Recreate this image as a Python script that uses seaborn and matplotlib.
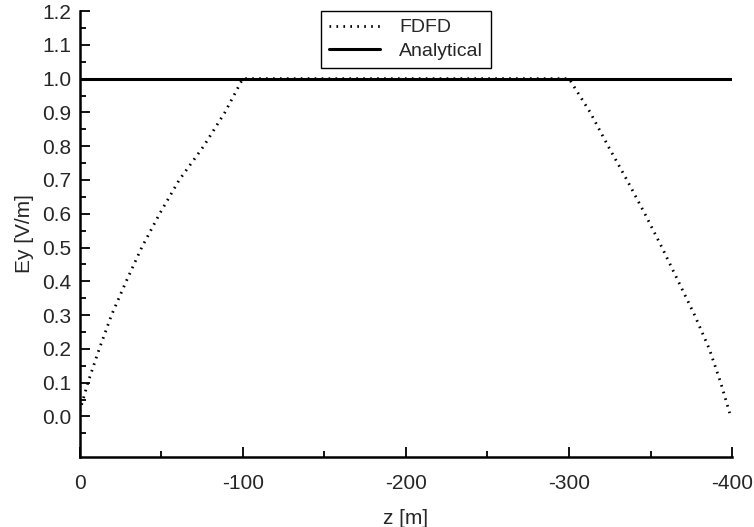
import numpy as np
import pandas as pd
import matplotlib
matplotlib.use("Agg")
import matplotlib.pyplot as plt
import seaborn as sns

# ── data ──────────────────────────────────────────────
z_fdfd = [0, -5, -12, -19.5, -28.5, -38, -49, -61, -76, -89, -100,
          -200, -300, -313, -324, -335.5, -346.5, -357, -367, -377,
          -386, -393, -398.5]
ey_fdfd = [0.015, 0.1, 0.2, 0.3, 0.4, 0.5, 0.6, 0.7, 0.8, 0.9, 1.0,
           1.0, 1.0, 0.9, 0.8, 0.7, 0.6, 0.5, 0.4, 0.3,
           0.2, 0.1, 0.01]
z_analytical = [0, -400]
ey_analytical = [1.0, 1.0]

x_ticks = [0, -100, -200, -300, -400]
x_ticklabels = ["0", "-100", "-200", "-300", "-400"]

df = pd.concat([
    pd.DataFrame({"z": z_fdfd, "Ey": ey_fdfd, "series": "FDFD"}),
    pd.DataFrame({"z": z_analytical, "Ey": ey_analytical, "series": "Analytical"}),
], ignore_index=True)

DOTS = (0.6, 1.9)

# ── style ─────────────────────────────────────────────
sns.set_style("ticks")
plt.rcParams["font.family"] = ["Liberation Sans", "DejaVu Sans"]
plt.rcParams["axes.unicode_minus"] = False

fig = plt.figure(figsize=(7.54, 5.27), dpi=100)
ax = fig.add_axes([0.1057, 0.1328, 0.8653, 0.8462])

sns.lineplot(data=df[df["series"] == "FDFD"], x="z", y="Ey", ax=ax,
             color="black", linewidth=2.0, dashes=False, label="FDFD",
             sort=False, estimator=None)
ax.lines[-1].set_dashes(DOTS)
ax.lines[-1].set_dash_capstyle("butt")
sns.lineplot(data=df[df["series"] == "Analytical"], x="z", y="Ey", ax=ax,
             color="black", linewidth=2.2, label="Analytical",
             sort=False, estimator=None)

ax.set_xlim(0, -400)
ax.set_ylim(-0.12, 1.2)
ax.set_xticks(x_ticks)
ax.set_xticklabels(x_ticklabels)
ax.set_xticks([-50, -150, -250, -350], minor=True)
yt = np.round(np.arange(0, 1.21, 0.1), 1)
ax.set_yticks(yt)
ax.set_yticklabels([f"{v:.1f}" for v in yt])
ax.set_yticks(np.round(np.arange(-0.05, 1.2, 0.1), 2), minor=True)

ax.tick_params(which="both", direction="in", width=1.3, color="black")
ax.tick_params(which="major", length=7, labelsize=15)
ax.tick_params(which="minor", length=4)
ax.tick_params(axis="x", pad=12)
ax.tick_params(axis="y", pad=6)

for side in ["top", "right"]:
    ax.spines[side].set_visible(False)
for side in ["left", "bottom"]:
    ax.spines[side].set_linewidth(1.8)
    ax.spines[side].set_color("black")

ax.set_xlabel("z [m]", fontsize=15, labelpad=12)
ax.set_ylabel("Ey [V/m]", fontsize=15, labelpad=6)

leg = ax.legend(loc="upper center", bbox_to_anchor=(0.5, 1.0),
                borderaxespad=0, fontsize=14, handlelength=2.6,
                fancybox=False, framealpha=1, edgecolor="black",
                borderpad=0.4, labelspacing=0.3, handletextpad=1.0)
leg.get_frame().set_linewidth(1.0)
leg.get_lines()[0].set_dashes(DOTS)
leg.get_lines()[0].set_dash_capstyle("butt")

plt.savefig("out.png", dpi=100)
